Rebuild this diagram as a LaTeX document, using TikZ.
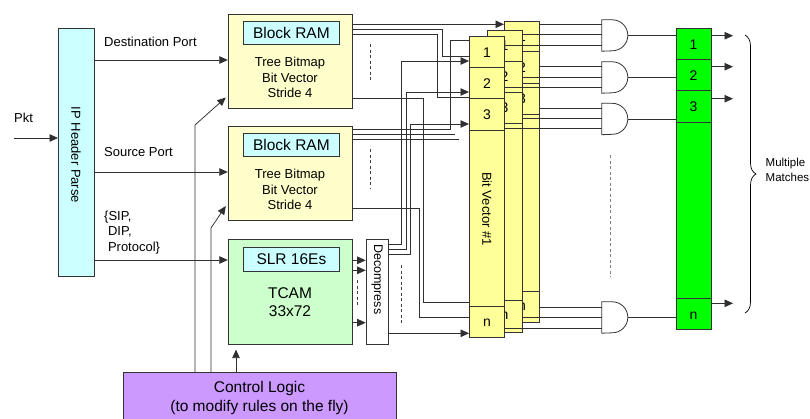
\documentclass[tikz,border=0pt]{standalone}
\usepackage{fontspec}
\setmainfont{Liberation Sans}
\usetikzlibrary{arrows.meta,decorations.pathreplacing,calc}
\definecolor{ipcyan}{HTML}{CCFFFF}
\definecolor{bryel}{HTML}{FFFFCC}
\definecolor{tcamgr}{HTML}{CCFFCC}
\definecolor{colyel}{HTML}{FFFF99}
\definecolor{mgreen}{HTML}{00FF00}
\definecolor{ctrlpur}{HTML}{CC99FF}
\definecolor{wirec}{HTML}{303030}
\begin{document}
\begin{tikzpicture}[x=1pt,y=-1pt,
  box/.style={draw=black!80,line width=0.8pt,inner sep=0pt,anchor=north west},
  wire/.style={draw=wirec,line width=0.75pt},
  arr/.style={wire,-{Triangle[length=8.5pt,width=7.5pt]}},
  dashline/.style={draw=black!75,line width=0.8pt,dash pattern=on 3pt off 2.5pt},
  graydash/.style={draw=black!50,line width=1pt,dash pattern=on 3pt off 2.5pt},
  txt/.style={inner sep=0pt,font=\fontsize{13}{15.5}\selectfont},
  big/.style={inner sep=0pt,font=\fontsize{15.5}{18.5}\selectfont},
  celllab/.style={inner sep=0pt,font=\fontsize{14}{14}\selectfont},
  cellline/.style={draw=black!80,line width=0.8pt},
  gatebox/.style={inner sep=0pt,minimum width=26pt,minimum height=31pt},
  gate/.style={draw=black!80,line width=0.8pt,fill=white}]
\useasboundingbox (0,0) rectangle (810,418);
\fill[white] (0,0) rectangle (810,418);
\clip (0,0) rectangle (810,418);

% IP header parse
\node[box,fill=ipcyan,minimum width=36pt,minimum height=248pt] (ip) at (58,28) {};
\node[txt,rotate=-90] (iplab) at (76,155) {IP Header Parse};

% Block RAM 1
\node[box,fill=bryel,minimum width=124.5pt,minimum height=94.3pt] (br1) at (227.8,14) {};
\node[box,fill=ipcyan,minimum width=96pt,minimum height=23pt,font=\fontsize{15.5}{15.5}\selectfont] (br1ram) at (243,21) {Block RAM};
\node[txt,align=center] (br1txt) at (290,77.5) {Tree Bitmap\\Bit Vector\\Stride 4};

% Block RAM 2
\node[box,fill=bryel,minimum width=124.5pt,minimum height=94.3pt] (br2) at (227.8,126) {};
\node[box,fill=ipcyan,minimum width=96pt,minimum height=23pt,font=\fontsize{15.5}{15.5}\selectfont] (br2ram) at (243,132.7) {Block RAM};
\node[txt,align=center] (br2txt) at (290,189.5) {Tree Bitmap\\Bit Vector\\Stride 4};

% TCAM
\node[box,fill=tcamgr,minimum width=124.5pt,minimum height=105pt] (tcam) at (227.8,239.3) {};
\node[box,fill=ipcyan,minimum width=96pt,minimum height=23.5pt,font=\fontsize{15.5}{15.5}\selectfont] (slr) at (243,247.3) {SLR 16Es};
\node[big,align=center] (tcamtxt) at (290,302) {TCAM\\33x72};

% Decompress
\node[box,fill=white,minimum width=22.5pt,minimum height=105pt] (dec) at (365.7,239.3) {};
\node[inner sep=0pt,font=\fontsize{12.5}{12.5}\selectfont,rotate=-90,anchor=west] (declab) at (377,244) {Decompress};

% Control logic
\node[box,fill=ctrlpur,minimum width=273pt,minimum height=60pt] (ctrl) at (123.3,372.3) {};
\node[big,align=center,font=\fontsize{15.5}{19}\selectfont] (ctrltxt) at (259.5,397.5) {Control Logic\\(to modify rules on the fly)};

% Left labels
\node[txt,anchor=west] (pktlab) at (14,118) {Pkt};
\node[txt,anchor=west] (dplab) at (104,42) {Destination Port};
\node[txt,anchor=west] (splab) at (104,152) {Source Port};
\node[txt,anchor=west,align=left] (siplab) at (104,232.5) {\{SIP,\\\hspace{3.8pt}DIP,\\\hspace{3.8pt}Protocol\}};

% Bit vector columns (back to front)
\node[box,fill=colyel,minimum width=35.3pt,minimum height=301pt] (c3) at (504,21) {};
\foreach \yy in {51.7,83.3,114.3,291} \draw[cellline] (c3.west |- 0,\yy) -- (c3.east |- 0,\yy);
\foreach \t/\yy [count=\i] in {1/37,2/67.5,3/98.5,n/306.5} \node[celllab] (c3l\i) at (c3.center |- 0,\yy) {\t};

\node[box,fill=colyel,minimum width=35pt,minimum height=302pt] (c2) at (486.7,30) {};
\foreach \yy in {61.7,92.7,123,300} \draw[cellline] (c2.west |- 0,\yy) -- (c2.east |- 0,\yy);
\foreach \t/\yy [count=\i] in {1/46,2/77,3/108,n/316} \node[celllab] (c2l\i) at (c2.center |- 0,\yy) {\t};

\node[box,fill=colyel,minimum width=35.3pt,minimum height=301.3pt] (c1) at (469,36) {};
\foreach \yy in {67.3,98.7,130,306.7} \draw[cellline] (c1.west |- 0,\yy) -- (c1.east |- 0,\yy);
\foreach \t/\yy [count=\i] in {1/52.5,2/84,3/115,n/323} \node[celllab] (c1l\i) at (c1.center |- 0,\yy) {\t};
\node[txt,rotate=-90,anchor=west] (bvlab) at (487,172) {Bit Vector \#1};

% Match column
\node[box,fill=mgreen,minimum width=35pt,minimum height=301pt] (mg) at (675.7,28.3) {};
\foreach \yy in {59.7,90.7,122,298.7} \draw[cellline] (mg.west |- 0,\yy) -- (mg.east |- 0,\yy);
\foreach \t/\yy [count=\i] in {1/44.3,2/76,3/107,n/316} \node[celllab] (mgl\i) at (mg.center |- 0,\yy) {\t};

% AND gates
\node[gatebox] (g1) at (615,35.5) {};
\node[gatebox] (g2) at (615,77.5) {};
\node[gatebox] (g3) at (615,119) {};
\node[gatebox] (gn) at (615,317.5) {};
\foreach \g in {g1,g2,g3,gn}
  \draw[gate] (\g.north west) -- ++(10.5,0) arc[start angle=90,end angle=-90,radius=15.5pt] -- (\g.south west) -- cycle;

% Inputs
\coordinate (pktin) at (14,138);
\draw[arr] (pktin) -- (ip.west |- pktin);
\draw[arr] (ip.east |- 0,60) -- (br1.west |- 0,60);
\draw[arr] (ip.east |- 0,172) -- (br2.west |- 0,172);
\draw[arr] (ip.east |- 0,260) -- (tcam.west |- 0,260);

% Control logic connectors
\draw[arr] (ctrl.north -| 195,0) -- (195,125) -- ($(br1.west |- 0,97.5)+(-2,0)$);
\draw[arr] (ctrl.north -| 211,0) -- (211,228) -- ($(br2.west |- 0,206)+(-2,0)$);
\draw[arr] (ctrl.north -| 236,0) -- ($(tcam.south -| 236,0)+(0,4.5)$);

% Block RAM 1 outputs
\draw[arr] (br1.east |- 0,24.3) -- (c3.west |- 0,24.3);
\draw[wire] (br1.east |- 0,29.3) -- (442,29.3) -- (442,56) -- (c1.west |- 0,56);
\draw[wire] (br1.east |- 0,34.3) -- (437,34.3) -- (437,97.5) -- (c1.west |- 0,97.5);
\draw[wire] (br1.east |- 0,98) -- (423.5,98) -- (423.5,302) -- (c1.west |- 0,302);
\draw[dashline] (370,44) -- (370,82);

% Block RAM 2 outputs
\draw[wire] (br2.east |- 0,129) -- (450,129) -- (450,40.5) -- (c1.west |- 0,40.5);
\coordinate (e6) at (455,134);
\coordinate (e7) at (459,139);
\draw[wire] (br2.east |- e6) -- (e6);
\draw[wire] (br2.east |- e7) -- (e7);
\draw[wire] (br2.east |- 0,208) -- (419,208) -- (419,317.5) -- (c1.west |- 0,317.5);
\draw[dashline] (370,149) -- (370,188);

% TCAM to Decompress
\foreach \yy in {260.3,270.3,322.7} \draw[arr] (tcam.east |- 0,\yy) -- (dec.west |- 0,\yy);
\draw[dashline] (357.3,280) -- (357.3,305);

% Decompress to bit vector #1
\draw[arr] (dec.east |- 0,244) -- (401.7,244) -- (401.7,61) -- (c1.west |- 0,61);
\draw[arr] (dec.east |- 0,249) -- (406,249) -- (406,92) -- (c1.west |- 0,92);
\draw[arr] (dec.east |- 0,254) -- (410.7,254) -- (410.7,124) -- (c1.west |- 0,124);
\draw[arr] (dec.east |- 0,333.3) -- (c1.west |- 0,333.3);
\draw[dashline] (401.7,265) -- (401.7,323);

% Columns to gates
\foreach \yy/\g in {24.3/g1,66.5/g2,108/g3,307/gn} \draw[wire] (c3.east |- 0,\yy) -- (\g.west |- 0,\yy);
\foreach \yy/\g in {34.5/g1,77/g2,118.5/g3,317.5/gn} \draw[wire] (c2.east |- 0,\yy) -- (\g.west |- 0,\yy);
\foreach \yy/\g in {45/g1,87.5/g2,128.5/g3,328/gn} \draw[wire] (c1.east |- 0,\yy) -- (\g.west |- 0,\yy);

% Gates to match column
\foreach \g in {g1,g2,g3,gn} \draw[wire] (\g.east) -- (mg.west |- \g.east);
\draw[graydash] (610.7,155) -- (610.7,277);

% Match outputs
\foreach \yy [count=\i] in {35.7,66.7,98.7,303.3} {
  \coordinate (mo\i) at (733,\yy);
  \draw[arr] (mg.east |- mo\i) -- (mo\i);
}

% Brace and label
\coordinate (bt) at (745,35);
\coordinate (bb) at (745,313);
\draw[line width=0.7pt,decorate,decoration={brace,amplitude=11pt}] (bt) -- (bb);
\node[inner sep=0pt,anchor=west,align=left,font=\fontsize{11.5}{15}\selectfont] (mmlab) at (765.5,169.5) {Multiple\\Matches};
\end{tikzpicture}
\end{document}
